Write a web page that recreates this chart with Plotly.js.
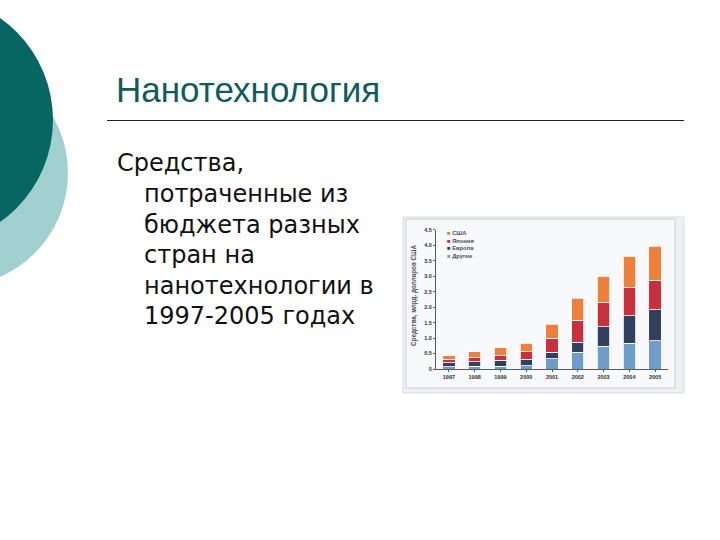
<!DOCTYPE html>
<html>
<head>
<meta charset="utf-8">
<script src="https://cdn.plot.ly/plotly-3.0.1.min.js"></script>
<style>html,body{margin:0;padding:0;background:#fff;}#chart{width:720px;height:540px;}</style>
</head>
<body>
<div id="chart"></div>
<script>
var years = ["1997","1998","1999","2000","2001","2002","2003","2004","2005"];
var seriesNames = ["Другие","Европа","Япония","США"];
var others = [0.07, 0.083, 0.096, 0.11, 0.33, 0.54, 0.73, 0.83, 0.92];
var europe = [0.126, 0.151, 0.179, 0.20, 0.21, 0.32, 0.64, 0.89, 1.00];
var japan  = [0.12, 0.135, 0.157, 0.245, 0.45, 0.72, 0.77, 0.91, 0.95];
var usa    = [0.116, 0.19, 0.255, 0.27, 0.46, 0.71, 0.86, 1.02, 1.10];
var yTicks = [0, 0.5, 1.0, 1.5, 2.0, 2.5, 3.0, 3.5, 4.0, 4.5];
var yTickText = ["0","0.5","1.0","1.5","2.0","2.5","3.0","3.5","4.0","4.5"];
var colors = ["#6f9dcb", "#323f5e", "#c9303b", "#ef7f3a"];
var values = [others, europe, japan, usa];

var W = 720, H = 540;
function px(x){ return x / W; }
function py(y){ return 1 - y / H; }

var traces = values.map(function(v, i){
  return {
    type: "bar", x: years, y: v, name: seriesNames[i],
    marker: {color: colors[i], line: {color: "#ffffff", width: 0.8}},
    showlegend: false, hoverinfo: "skip"
  };
});

var shapes = [
  {type:"circle", xref:"paper", yref:"paper", layer:"below",
   x0:px(-45.5-113.5), x1:px(-45.5+113.5), y0:py(173+113.5), y1:py(173-113.5),
   fillcolor:"#a2d0d0", line:{width:0}},
  {type:"circle", xref:"paper", yref:"paper", layer:"below",
   x0:px(-71.7-124.7), x1:px(-71.7+124.7), y0:py(120+124.7), y1:py(120-124.7),
   fillcolor:"#066662", line:{width:0}},
  {type:"line", xref:"paper", yref:"paper", x0:px(107), x1:px(684), y0:py(120.5), y1:py(120.5),
   line:{color:"#222222", width:1}},
  {type:"rect", xref:"paper", yref:"paper", layer:"below",
   x0:px(403), x1:px(684), y0:py(393), y1:py(217),
   fillcolor:"#eef0f4", line:{color:"#d8dbe1", width:1}},
  {type:"rect", xref:"paper", yref:"paper", layer:"below",
   x0:px(406), x1:px(675), y0:py(388), y1:py(219),
   fillcolor:"#f8f9fb", line:{color:"#c9d2de", width:1}}
];

var annotations = [
  {text:"Нанотехнология", xref:"paper", yref:"paper", x:px(114), y:py(90), xanchor:"left", yanchor:"middle",
   showarrow:false, font:{family:"Liberation Sans, Arial, sans-serif", size:35, color:"#0f5d5a"}}
];
var bodyLines = ["Средства,", "потраченные из", "бюджета разных", "стран на", "нанотехнологии в", "1997-2005 годах"];
var bodyX = [116, 143, 143, 143, 143, 143];
var bodyBase = [171.7, 203, 233.5, 264, 295, 325];
bodyLines.forEach(function(t, i){
  annotations.push({text:t, xref:"paper", yref:"paper", x:px(bodyX[i]-1), y:py(bodyBase[i]-9),
    xanchor:"left", yanchor:"middle", showarrow:false,
    font:{family:"DejaVu Sans, Verdana, sans-serif", size:24, color:"#111111"}});
});
annotations.push({text:"<b>Средства, млрд. долларов США</b>", xref:"paper", yref:"paper", x:px(414), y:py(295),
  xanchor:"center", yanchor:"middle", textangle:-90, showarrow:false,
  font:{family:"Liberation Sans, Arial, sans-serif", size:6.3, color:"#4a4f5a"}});
var legendOrder = [3, 2, 1, 0];
var legendText = legendOrder.map(function(si){
  return '<span style="color:' + colors[si] + '">■</span> <b>' + seriesNames[si] + '</b>';
}).join("<br>");
annotations.push({text: legendText, xref:"paper", yref:"paper", x:px(445), y:py(244), xanchor:"left", yanchor:"middle",
  align:"left", showarrow:false, font:{family:"Liberation Sans, Arial, sans-serif", size:5.8, color:"#4a4f5a"}});

var layout = {
  width: W, height: H,
  margin: {l:0, r:0, t:0, b:0},
  paper_bgcolor: "#ffffff",
  plot_bgcolor: "rgba(0,0,0,0)",
  barmode: "stack",
  bargap: 0.52,
  showlegend: false,
  xaxis: {
    domain: [px(436), px(668)],
    type: "category",
    showline: true, linecolor: "#555a63", linewidth: 1,
    ticks: "outside", ticklen: 2, tickcolor: "#555a63",
    tickfont: {family:"Liberation Sans, Arial, sans-serif", size:5.5, color:"#2d323b", weight:"bold"},
    showgrid: false, zeroline: false, fixedrange: true
  },
  yaxis: {
    domain: [py(369), py(229.7)],
    range: [0, 4.5],
    tickvals: yTicks, ticktext: yTickText,
    showline: true, linecolor: "#555a63", linewidth: 1,
    ticks: "outside", ticklen: 2, tickcolor: "#555a63",
    tickfont: {family:"Liberation Sans, Arial, sans-serif", size:5.5, color:"#2d323b", weight:"bold"},
    showgrid: false, zeroline: false, fixedrange: true
  },
  shapes: shapes,
  annotations: annotations
};

Plotly.newPlot("chart", traces, layout, {staticPlot: true, displayModeBar: false});
</script>
</body>
</html>
